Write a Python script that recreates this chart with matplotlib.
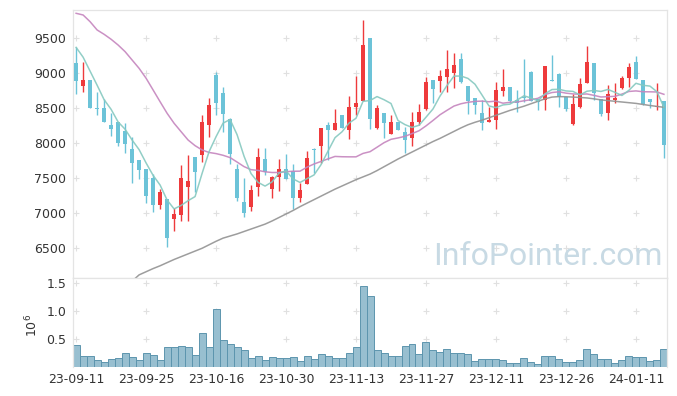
import numpy as np
import matplotlib
matplotlib.use('Agg')
import matplotlib.pyplot as plt
from matplotlib.ticker import FormatStrFormatter

# ---------------- data ----------------
opens = [9152, 8824, 8905, 8505, 8505, 8257, 8310, 8176, 7919, 7762,
         7633, 7505, 7119, 7205, 6923, 6976, 7380, 7804, 7833, 8266,
         8976, 8719, 8348, 7633, 7162, 7095, 7371, 7776, 7351, 7514,
         7633, 7604, 7223, 7423, 7905, 7966, 8262, 8190, 8404, 8195,
         8524, 8609, 9500, 8214, 8429, 8133, 8300, 8157, 8081, 8305,
         8490, 8905, 8895, 8952, 9000, 9205, 8819, 8643, 8429, 8305,
         8328, 8752, 8805, 8619, 8660, 9019, 8629, 8619, 8905, 8990,
         8667, 8281, 8524, 8867, 9143, 8629, 8429, 8619, 8790, 8929,
         9162, 8905, 8633, 8519, 8605]
highs = [9381, 9157, 8905, 8729, 8629, 8429, 8310, 8286, 8095, 7762,
         7633, 7562, 7352, 7205, 7080, 7690, 7833, 7804, 8404, 8643,
         9023, 8800, 8357, 7700, 7505, 7405, 7938, 7933, 7530, 7771,
         7847, 7700, 7429, 7890, 7929, 8223, 8309, 8490, 8404, 8680,
         8960, 9762, 9500, 8540, 8429, 8400, 8300, 8238, 8452, 8557,
         8952, 8905, 9048, 9330, 9295, 9288, 8819, 8643, 8615, 8524,
         8870, 9057, 8805, 8762, 9200, 9038, 8629, 9105, 9259, 9000,
         8667, 8700, 8938, 9390, 9143, 8629, 8833, 8857, 8962, 9152,
         9248, 8905, 8633, 8857, 8605]
lows = [8705, 8729, 8510, 8400, 8310, 8110, 7962, 7857, 7429, 7486,
        7152, 7024, 7057, 6524, 6751, 6894, 6894, 7309, 7729, 8094,
        8404, 8162, 7700, 7170, 6952, 7033, 7252, 7547, 7223, 7323,
        7490, 7057, 7157, 7423, 7571, 7714, 7762, 8190, 8214, 8062,
        8404, 8600, 8200, 8204, 8075, 8133, 8190, 7857, 7962, 8262,
        8471, 8571, 8729, 8729, 8795, 8857, 8416, 8424, 8190, 8300,
        8210, 8670, 8581, 8452, 8595, 8610, 8476, 8476, 8890, 8520,
        8457, 8267, 8500, 8866, 8619, 8390, 8333, 8581, 8771, 8810,
        8919, 8548, 8500, 8476, 7786]
closes = [8895, 8905, 8510, 8495, 8310, 8205, 8005, 7990, 7724, 7624,
          7252, 7119, 7300, 6652, 6990, 7500, 7457, 7594, 8304, 8547,
          8571, 8424, 7852, 7224, 7000, 7333, 7800, 7586, 7523, 7633,
          7490, 7223, 7333, 7794, 7900, 8223, 8195, 8290, 8214, 8519,
          8571, 9404, 8343, 8500, 8295, 8300, 8190, 8048, 8300, 8448,
          8876, 8781, 8962, 9062, 9119, 8881, 8610, 8548, 8295, 8333,
          8762, 8802, 8605, 8581, 8640, 8610, 8595, 9105, 8890, 8660,
          8490, 8562, 8848, 9160, 8714, 8419, 8705, 8643, 8933, 9086,
          8919, 8562, 8586, 8533, 7976]
volumes = [405000, 210000, 195000, 123000, 88000, 146000, 158000, 264000, 176000, 128000,
           264000, 217000, 128000, 370000, 358000, 388000, 370000, 217000, 617000, 370000,
           1040000, 494000, 423000, 370000, 305000, 158000, 194000, 128000, 176000, 158000,
           158000, 176000, 106000, 210000, 146000, 229000, 194000, 158000, 158000, 264000,
           370000, 1450000, 1275000, 305000, 264000, 210000, 194000, 388000, 423000, 229000,
           458000, 305000, 282000, 335000, 247000, 247000, 229000, 106000, 141000, 141000,
           141000, 123000, 70000, 70000, 158000, 88000, 53000, 194000, 194000, 141000,
           88000, 88000, 123000, 335000, 229000, 141000, 141000, 70000, 123000, 194000,
           176000, 176000, 106000, 123000, 335000]
# moving-average values before enough history exists in the shown window
ma5_head = [9370, 9230, 9030, 8830]
ma20_head = [9857, 9833, 9737, 9619, 9557, 9486, 9404, 9309, 9190, 9071,
             8929, 8762, 8594, 8429, 8286, 8166, 8047, 7966, 7905]
ma60_line = [np.nan] * 8 + [
    6030, 6120, 6165, 6210, 6250, 6295, 6340, 6380, 6420, 6460,
    6500, 6550, 6600, 6645, 6675, 6705, 6740, 6775, 6810, 6845,
    6890, 6940, 6990, 7040, 7095, 7145, 7195, 7245, 7295, 7345,
    7390, 7435, 7480, 7520, 7560, 7610, 7665, 7720, 7775, 7825,
    7875, 7925, 7975, 8025, 8070, 8120, 8170, 8220, 8265, 8300,
    8330, 8365, 8400, 8435, 8470, 8500, 8530, 8565, 8600, 8635,
    8660, 8667, 8665, 8660, 8655, 8648, 8635, 8620, 8610, 8600,
    8590, 8580, 8570, 8555, 8540, 8527, 8514]
tick_positions = [0, 10, 20, 30, 40, 50, 60, 70, 80]
tick_labels = ['23-09-11', '23-09-25', '23-10-16', '23-10-30', '23-11-13',
               '23-11-27', '23-12-11', '23-12-26', '24-01-11']
price_ticks = [6500, 7000, 7500, 8000, 8500, 9000, 9500]
vol_ticks = [0.5, 1.0, 1.5]

# ---------------- derived ----------------
o = np.array(opens, float); h = np.array(highs, float)
l = np.array(lows, float); c = np.array(closes, float)
v = np.array(volumes, float) / 1e6
n = len(c)
x = np.arange(n)

def rolling(arr, w, head):
    out = np.full(len(arr), np.nan)
    out[:len(head)] = head
    for i in range(w - 1, len(arr)):
        out[i] = arr[i - w + 1:i + 1].mean()
    return out

ma5 = rolling(c, 5, ma5_head)
ma20 = rolling(c, 20, ma20_head)
ma60 = np.array(ma60_line, float)

UP = '#ee3a3c'
DOWN = '#6cc3d8'
TXT = '#333333'
GRIDC = '#e0e0e0'
SPINE = '#e4e4e4'

plt.rcParams['font.family'] = ['DejaVu Sans']

fig = plt.figure(figsize=(6.77, 3.96), dpi=100)
ax = fig.add_axes([0.1083, 0.2972, 0.8765, 0.6775])
axv = fig.add_axes([0.1083, 0.0725, 0.8765, 0.2247], sharex=ax)

# grid crosses
gx, gy = np.meshgrid(tick_positions, price_ticks)
ax.scatter(gx.ravel(), gy.ravel(), marker='+', s=18, color=GRIDC, lw=0.8, zorder=0)
gx2, gy2 = np.meshgrid(tick_positions, vol_ticks)
axv.scatter(gx2.ravel(), gy2.ravel(), marker='+', s=18, color=GRIDC, lw=0.8, zorder=0)

# candles
up = c >= o
cols = np.where(up, UP, DOWN)
body_lo = np.minimum(o, c)
body_h = np.maximum(np.abs(c - o), 12)
ax.vlines(x, l, h, colors=cols, lw=1.0, zorder=2)
ax.bar(x, body_h, bottom=body_lo, width=0.62, color=cols, linewidth=0, zorder=3)

# moving averages
ax.plot(x, ma60, color='#939393', lw=1.1, alpha=0.9, zorder=4)
ax.plot(x, ma20, color='#c585be', lw=1.1, alpha=0.9, zorder=4)
ax.plot(x, ma5, color='#86c9c0', lw=1.1, alpha=0.9, zorder=5)

ax.set_xlim(-0.4, 84.4)
ax.set_ylim(6071, 9904)
ax.set_yticks(price_ticks)
ax.tick_params(axis='y', length=0, pad=5, labelsize=9, labelcolor=TXT)
ax.tick_params(axis='x', length=0, labelbottom=False)
for s in ax.spines.values():
    s.set_color(SPINE)
    s.set_linewidth(0.9)

ax.text(0.80, 0.08, 'InfoPointer.com', transform=ax.transAxes, ha='center', va='center',
        fontsize=23, color='#c8dae4', family='Roboto', zorder=1)

# volume
axv.bar(x, v, width=1.0, color='#98bfd0', edgecolor='#5d95ae', linewidth=0.7, zorder=2)
axv.set_ylim(0, 1.59)
axv.set_yticks(vol_ticks)
axv.yaxis.set_major_formatter(FormatStrFormatter('%.1f'))
axv.set_xticks(tick_positions)
axv.set_xticklabels(tick_labels)
axv.tick_params(axis='both', length=0, labelsize=9, labelcolor=TXT)
axv.tick_params(axis='y', pad=5)
axv.tick_params(axis='x', pad=4)
for name, s in axv.spines.items():
    s.set_color(SPINE)
    s.set_linewidth(0.9)
axv.spines['bottom'].set_visible(False)

fig.text(32 / 677, 1 - 325 / 396, r'$10^{6}$', rotation=90, ha='center', va='center',
         fontsize=9, color=TXT)

fig.savefig('out.png', dpi=100)
